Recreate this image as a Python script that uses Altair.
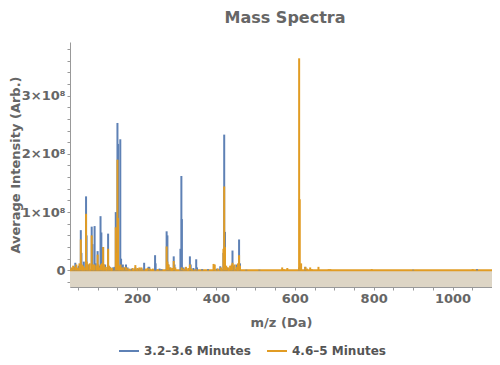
import altair as alt
import pandas as pd

series_names = ["3.2–3.6 Minutes", "4.6–5 Minutes"]
series_colors = ["#5e81b5", "#e19c24"]

# Peaks of series 1 (m/z in Da, intensity in units of 1e8)
blue_mz = [36, 40, 43.5, 47, 52, 57.4, 59, 65, 70.7, 72, 77, 85, 87, 92.4, 95, 100, 104,
           107.4, 109.5, 114, 119, 126.6, 131, 139, 143, 146, 148.5, 150.3, 152, 157.5,
           159.5, 164, 168, 172, 176, 186, 195.7, 204, 211, 218, 229, 231, 245.7, 247,
           257, 262, 275, 277, 279, 283, 293, 295, 310, 312.4, 313.7, 318, 324, 334, 336,
           343, 350, 352, 365, 380, 395, 403, 411, 419, 421, 423, 428, 437, 442, 444, 452,
           458.7, 461, 477, 510, 611, 626.6, 900, 1062]
blue_int = [0.04, 0.06, 0.13, 0.05, 0.08, 0.69, 0.3, 0.15, 1.27, 0.6, 0.1, 0.75, 0.45, 0.76,
            0.12, 0.33, 0.08, 0.93, 0.65, 0.4, 0.1, 0.63, 0.06, 0.05, 0.06, 1.0, 0.55, 2.53,
            2.17, 2.25, 0.2, 0.1, 0.05, 0.1, 0.05, 0.03, 0.05, 0.03, 0.04, 0.13, 0.06, 0.06,
            0.26, 0.12, 0.03, 0.02, 0.67, 0.6, 0.1, 0.05, 0.24, 0.1, 0.37, 1.62, 0.88, 0.05,
            0.05, 0.24, 0.1, 0.04, 0.19, 0.05, 0.02, 0.02, 0.07, 0.03, 0.07, 0.3, 2.33, 0.66,
            0.05, 0.04, 0.34, 0.08, 0.1, 0.53, 0.12, 0.01, 0.01, 0.05, 0.06, 0.01, 0.02]

# Peaks of series 2
orange_mz = [34, 38, 43, 46, 50, 54, 57.4, 60, 63, 66, 70.7, 72.5, 75, 80, 85, 88, 92, 97,
             100, 102, 105, 108, 111, 114, 116, 121, 126.6, 129, 133, 137, 146, 148, 150.3,
             152, 155, 158, 161, 165, 171, 174, 180, 189, 195.7, 201, 206, 211, 222, 227,
             233, 240, 253, 275, 277, 280, 285, 289, 293, 297, 313, 318, 324, 330, 334, 339,
             350, 394, 397, 405, 413, 419, 421, 423, 426, 431, 436, 440, 442, 447, 453, 456,
             458.7, 461, 568, 572, 581, 611, 612.5, 616, 626.6, 631, 639, 643, 660, 686, 690,
             795, 1051]
orange_int = [0.05, 0.08, 0.06, 0.1, 0.04, 0.12, 0.53, 0.1, 0.08, 0.05, 0.97, 0.15, 0.1, 0.12,
              0.6, 0.1, 0.1, 0.08, 0.27, 0.1, 0.05, 0.1, 0.12, 0.4, 0.1, 0.06, 0.37, 0.08,
              0.05, 0.04, 0.74, 0.3, 1.9, 0.9, 0.08, 0.1, 0.05, 0.05, 0.06, 0.04, 0.03, 0.04,
              0.09, 0.04, 0.05, 0.05, 0.03, 0.04, 0.03, 0.03, 0.02, 0.41, 0.15, 0.1, 0.05,
              0.04, 0.16, 0.05, 0.05, 0.03, 0.06, 0.04, 0.1, 0.03, 0.02, 0.11, 0.1, 0.03, 0.05,
              0.37, 1.44, 0.4, 0.08, 0.05, 0.08, 0.1, 0.13, 0.1, 0.06, 0.12, 0.26, 0.08, 0.05,
              0.02, 0.04, 3.64, 1.22, 0.12, 0.06, 0.03, 0.05, 0.02, 0.06, 0.02, 0.02, 0.02, 0.02]

x_domain = [30, 1100]
y_domain = [-0.286e8, 3.92e8]
x_ticks = list(range(50, 1101, 50))
y_ticks = [i * 20000000 for i in range(-1, 20)]

SCALE = 1e8
rows = []
for m, v in zip(blue_mz, blue_int):
    rows.append({"mz": m, "intensity": v * SCALE, "base": 0.0, "series": series_names[0]})
for m, v in zip(orange_mz, orange_int):
    rows.append({"mz": m, "intensity": v * SCALE, "base": 0.0, "series": series_names[1]})
df = pd.DataFrame(rows)

bg_df = pd.DataFrame([{"mz": x_domain[0], "mz2": x_domain[1],
                       "intensity": y_domain[0], "intensity2": 0.0}])
base_df = pd.DataFrame([{"mz": x_domain[0], "mz2": x_domain[1], "intensity": 0.0}])

FONT = "DejaVu Sans"
GRAY = "#666666"

xscale = alt.Scale(domain=x_domain, nice=False, zero=False)
yscale = alt.Scale(domain=y_domain, nice=False, zero=False)

xaxis = alt.Axis(values=x_ticks, grid=False, tickSize=3, labelPadding=2, labelOverlap=False,
                 labelExpr="datum.value % 200 == 0 ? '' + datum.value : ''",
                 labelFont=FONT, labelFontSize=13, labelFontWeight="bold", labelColor=GRAY,
                 titleFont=FONT, titleFontSize=13, titleFontWeight="bold", titleColor=GRAY,
                 titlePadding=11, domainColor="#999999", tickColor="#999999")
yaxis = alt.Axis(values=y_ticks, grid=False, tickSize=3, labelPadding=2, labelOverlap=False,
                 labelExpr="datum.value == 0 ? '0' : (abs(datum.value % 100000000) < 1 ? format(datum.value/100000000, 'd') + '×10⁸' : '')",
                 labelFont=FONT, labelFontSize=13, labelFontWeight="bold", labelColor=GRAY,
                 titleFont=FONT, titleFontSize=13, titleFontWeight="bold", titleColor=GRAY,
                 titleX=-55, titleBaseline="middle",
                 domainColor="#999999", tickColor="#999999")

XT = "m/z (Da)"
YT = "Average Intensity (Arb.)"

bg = alt.Chart(bg_df).mark_rect(color="#ddd5c5").encode(
    x=alt.X("mz:Q", scale=xscale, axis=xaxis, title=XT),
    x2="mz2:Q",
    y=alt.Y("intensity:Q", scale=yscale, axis=yaxis, title=YT),
    y2="intensity2:Q",
)

baseline = alt.Chart(base_df).mark_rule(color=series_colors[1], strokeWidth=2).encode(
    x=alt.X("mz:Q", scale=xscale, axis=xaxis, title=XT),
    x2="mz2:Q",
    y=alt.Y("intensity:Q", scale=yscale, axis=yaxis, title=YT),
)

peaks = alt.Chart(df).mark_rule(strokeWidth=2).encode(
    x=alt.X("mz:Q", scale=xscale, axis=xaxis, title=XT),
    y=alt.Y("intensity:Q", scale=yscale, axis=yaxis, title=YT),
    y2="base:Q",
    color=alt.Color("series:N",
                    scale=alt.Scale(domain=series_names, range=series_colors),
                    legend=alt.Legend(orient="none", legendX=48, legendY=298,
                                      direction="horizontal", title=None,
                                      symbolType="stroke", symbolStrokeWidth=2,
                                      symbolSize=400, labelFont=FONT, labelFontSize=12,
                                      labelFontWeight="bold", labelColor="#555555",
                                      columnPadding=12)),
)

chart = alt.layer(bg, baseline, peaks).properties(
    width=422, height=245,
    title=alt.TitleParams("Mass Spectra", font=FONT, fontSize=16, fontWeight="bold",
                          color=GRAY, anchor="middle", offset=16, dx=4),
    autosize=alt.AutoSizeParams(type="none"),
    padding={"left": 62, "top": 34, "right": 0, "bottom": 80},
).configure_view(stroke=None).configure_axis(labelOverlap=False)

chart.save("out.html", embed_options={"renderer": "svg", "actions": False})
